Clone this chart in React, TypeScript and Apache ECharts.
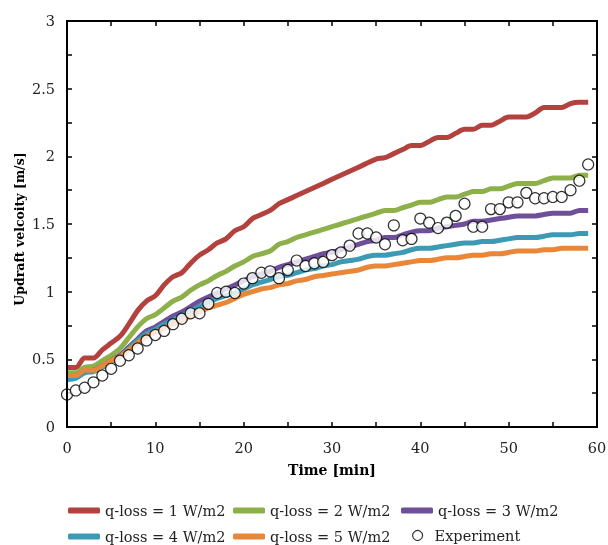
import React, { useEffect, useRef } from "react";
import * as echarts from "echarts";

const time: number[] = Array.from({ length: 60 }, (_, i) => i);

const q1: number[] = [0.44,0.44,0.51,0.51,0.57,0.62,0.67,0.76,0.86,0.93,0.97,1.05,1.11,1.14,1.21,1.27,1.31,1.36,1.39,1.45,1.48,1.54,1.57,1.60,1.65,1.68,1.71,1.74,1.77,1.80,1.83,1.86,1.89,1.92,1.95,1.98,1.99,2.02,2.05,2.08,2.08,2.11,2.14,2.14,2.17,2.20,2.20,2.23,2.23,2.26,2.29,2.29,2.29,2.32,2.36,2.36,2.36,2.39,2.40,2.40];
const q2: number[] = [0.40,0.40,0.44,0.45,0.49,0.53,0.58,0.66,0.74,0.80,0.83,0.88,0.93,0.96,1.01,1.05,1.08,1.12,1.15,1.19,1.22,1.26,1.28,1.30,1.35,1.37,1.40,1.42,1.44,1.46,1.48,1.50,1.52,1.54,1.56,1.58,1.60,1.60,1.62,1.64,1.66,1.66,1.68,1.70,1.70,1.72,1.74,1.74,1.76,1.76,1.78,1.80,1.80,1.80,1.82,1.84,1.84,1.84,1.86,1.86];
const q3: number[] = [0.37,0.38,0.41,0.42,0.45,0.49,0.53,0.59,0.65,0.71,0.74,0.78,0.82,0.85,0.89,0.93,0.96,0.99,1.02,1.05,1.08,1.11,1.13,1.15,1.18,1.20,1.22,1.24,1.26,1.28,1.29,1.31,1.33,1.35,1.37,1.38,1.40,1.40,1.42,1.44,1.45,1.45,1.47,1.48,1.49,1.50,1.52,1.52,1.53,1.54,1.55,1.56,1.56,1.56,1.57,1.58,1.58,1.58,1.60,1.60];
const q4: number[] = [0.35,0.36,0.40,0.41,0.44,0.48,0.52,0.58,0.64,0.69,0.72,0.76,0.79,0.82,0.86,0.89,0.92,0.95,0.97,0.99,1.02,1.05,1.07,1.09,1.11,1.12,1.14,1.16,1.17,1.19,1.20,1.22,1.23,1.24,1.26,1.27,1.27,1.28,1.29,1.31,1.32,1.32,1.33,1.34,1.35,1.36,1.36,1.37,1.37,1.38,1.39,1.40,1.40,1.40,1.41,1.42,1.42,1.42,1.43,1.43];
const q5: number[] = [0.38,0.38,0.42,0.42,0.45,0.49,0.52,0.57,0.62,0.67,0.70,0.73,0.76,0.79,0.82,0.85,0.88,0.90,0.92,0.95,0.98,1.00,1.02,1.03,1.05,1.06,1.08,1.09,1.11,1.12,1.13,1.14,1.15,1.16,1.18,1.19,1.19,1.20,1.21,1.22,1.23,1.23,1.24,1.25,1.25,1.26,1.27,1.27,1.28,1.28,1.29,1.30,1.30,1.30,1.31,1.31,1.32,1.32,1.32,1.32];
const experiment: number[] = [0.24,0.27,0.29,0.33,0.38,0.43,0.49,0.53,0.58,0.64,0.68,0.71,0.76,0.80,0.84,0.84,0.91,0.99,1.00,0.99,1.06,1.10,1.14,1.15,1.10,1.16,1.23,1.19,1.21,1.22,1.27,1.29,1.34,1.43,1.43,1.40,1.35,1.49,1.38,1.39,1.54,1.51,1.47,1.51,1.56,1.65,1.48,1.48,1.61,1.61,1.66,1.66,1.73,1.69,1.69,1.70,1.70,1.75,1.82,1.94];

const seriesNames: string[] = [
  "q-loss = 1 W/m2",
  "q-loss = 2 W/m2",
  "q-loss = 3 W/m2",
  "q-loss = 4 W/m2",
  "q-loss = 5 W/m2",
];
const expName = "Experiment";
const xTitle = "Time [min]";
const yTitle = "Updraft velcoity [m/s]";
const colors: string[] = ["#B3423F", "#8DB04B", "#6F4F9A", "#3D9AB5", "#E8873A"];

const xTicks = { min: 0, max: 60, interval: 10 };
const yTicks = { min: 0, max: 3, interval: 0.5 };

const FONT = "DejaVu Serif";

export default function App() {
  const ref = useRef<HTMLDivElement>(null);
  useEffect(() => {
    if (!ref.current) return;
    const chart = echarts.init(ref.current, undefined, { renderer: "svg" });
    const lines = [q1, q2, q3, q4, q5];
    const lineSeries = lines.map((vals, i) => ({
      name: seriesNames[i],
      type: "line",
      xAxisIndex: 0,
      yAxisIndex: 0,
      showSymbol: false,
      symbol: "none",
      smooth: 0.3,
      data: vals.map((v, j) => [time[j], v]),
      lineStyle: { color: colors[i], width: 5 },
      itemStyle: { color: colors[i] },
      z: 2,
    }));
    const axisCommon = {
      axisLine: { show: true, onZero: false, lineStyle: { color: "#000", width: 2 } },
      axisTick: { show: true, inside: true, length: 5, lineStyle: { color: "#000", width: 1.5 } },
      minorTick: { show: true, splitNumber: 2, length: 5, lineStyle: { color: "#000", width: 1.5 } },
      splitLine: { show: false },
    };
    const legendText = { fontFamily: FONT, fontSize: 14.5, color: "#222" };
    const legendPos: [number, number][] = [
      [68, 503],
      [233, 503],
      [401, 503],
      [68, 529],
      [233, 529],
    ];
    const legends: any[] = seriesNames.map((n, i) => ({
      data: [{ name: n, icon: "roundRect", itemStyle: { color: colors[i] } }],
      left: legendPos[i][0],
      top: legendPos[i][1],
      itemWidth: 32,
      itemHeight: 6,
      padding: 0,
      textStyle: legendText,
      selectedMode: false,
    }));
    legends.push({
      data: [
        {
          name: expName,
          icon: "circle",
          itemStyle: { color: "#fff", borderColor: "#000", borderWidth: 1.2 },
        },
      ],
      left: 412,
      top: 528,
      itemWidth: 24,
      itemHeight: 10,
      padding: 0,
      textStyle: legendText,
      selectedMode: false,
    });
    chart.setOption({
      animation: false,
      grid: {
        left: 67,
        right: 11,
        top: 21,
        bottom: 118,
        outerBoundsMode: "none",
      },
      legend: legends,
      graphic: [
        {
          type: "rect",
          shape: { x: 67, y: 21, width: 530, height: 406 },
          style: { fill: "none", stroke: "#000", lineWidth: 2 },
          silent: true,
          z: 10,
        },
        {
          type: "text",
          x: 332,
          y: 470,
          style: {
            text: xTitle,
            fontFamily: FONT,
            fontSize: 14,
            fontWeight: "bold",
            fill: "#000",
            textAlign: "center",
            textVerticalAlign: "middle",
          },
        },
        {
          type: "text",
          x: 19,
          y: 229,
          rotation: Math.PI / 2,
          style: {
            text: yTitle,
            fontFamily: FONT,
            fontSize: 12.5,
            fontWeight: "bold",
            fill: "#000",
            textAlign: "center",
            textVerticalAlign: "middle",
          },
        },
      ],
      xAxis: [
        {
          type: "value",
          position: "bottom",
          ...xTicks,
          ...axisCommon,
          axisLabel: { fontFamily: FONT, fontSize: 14.5, color: "#222", margin: 13 },
        },
        {
          type: "value",
          position: "top",
          ...xTicks,
          ...axisCommon,
          axisLabel: { show: false },
        },
      ],
      yAxis: [
        {
          type: "value",
          position: "left",
          ...yTicks,
          ...axisCommon,
          axisLabel: { fontFamily: FONT, fontSize: 14.5, color: "#222", margin: 12 },
        },
        {
          type: "value",
          position: "right",
          ...yTicks,
          ...axisCommon,
          axisLabel: { show: false },
        },
      ],
      series: [
        ...lineSeries,
        {
          name: expName,
          type: "scatter",
          xAxisIndex: 0,
          yAxisIndex: 0,
          symbol: "circle",
          symbolSize: 11,
          data: experiment.map((v, j) => [time[j], v]),
          itemStyle: { color: "#fff", borderColor: "#000", borderWidth: 1.2 },
          z: 5,
        },
      ],
    });
    return () => chart.dispose();
  }, []);
  return (
    <div
      ref={ref}
      style={{ position: "fixed", left: 0, top: 0, width: 608, height: 545 }}
    />
  );
}
